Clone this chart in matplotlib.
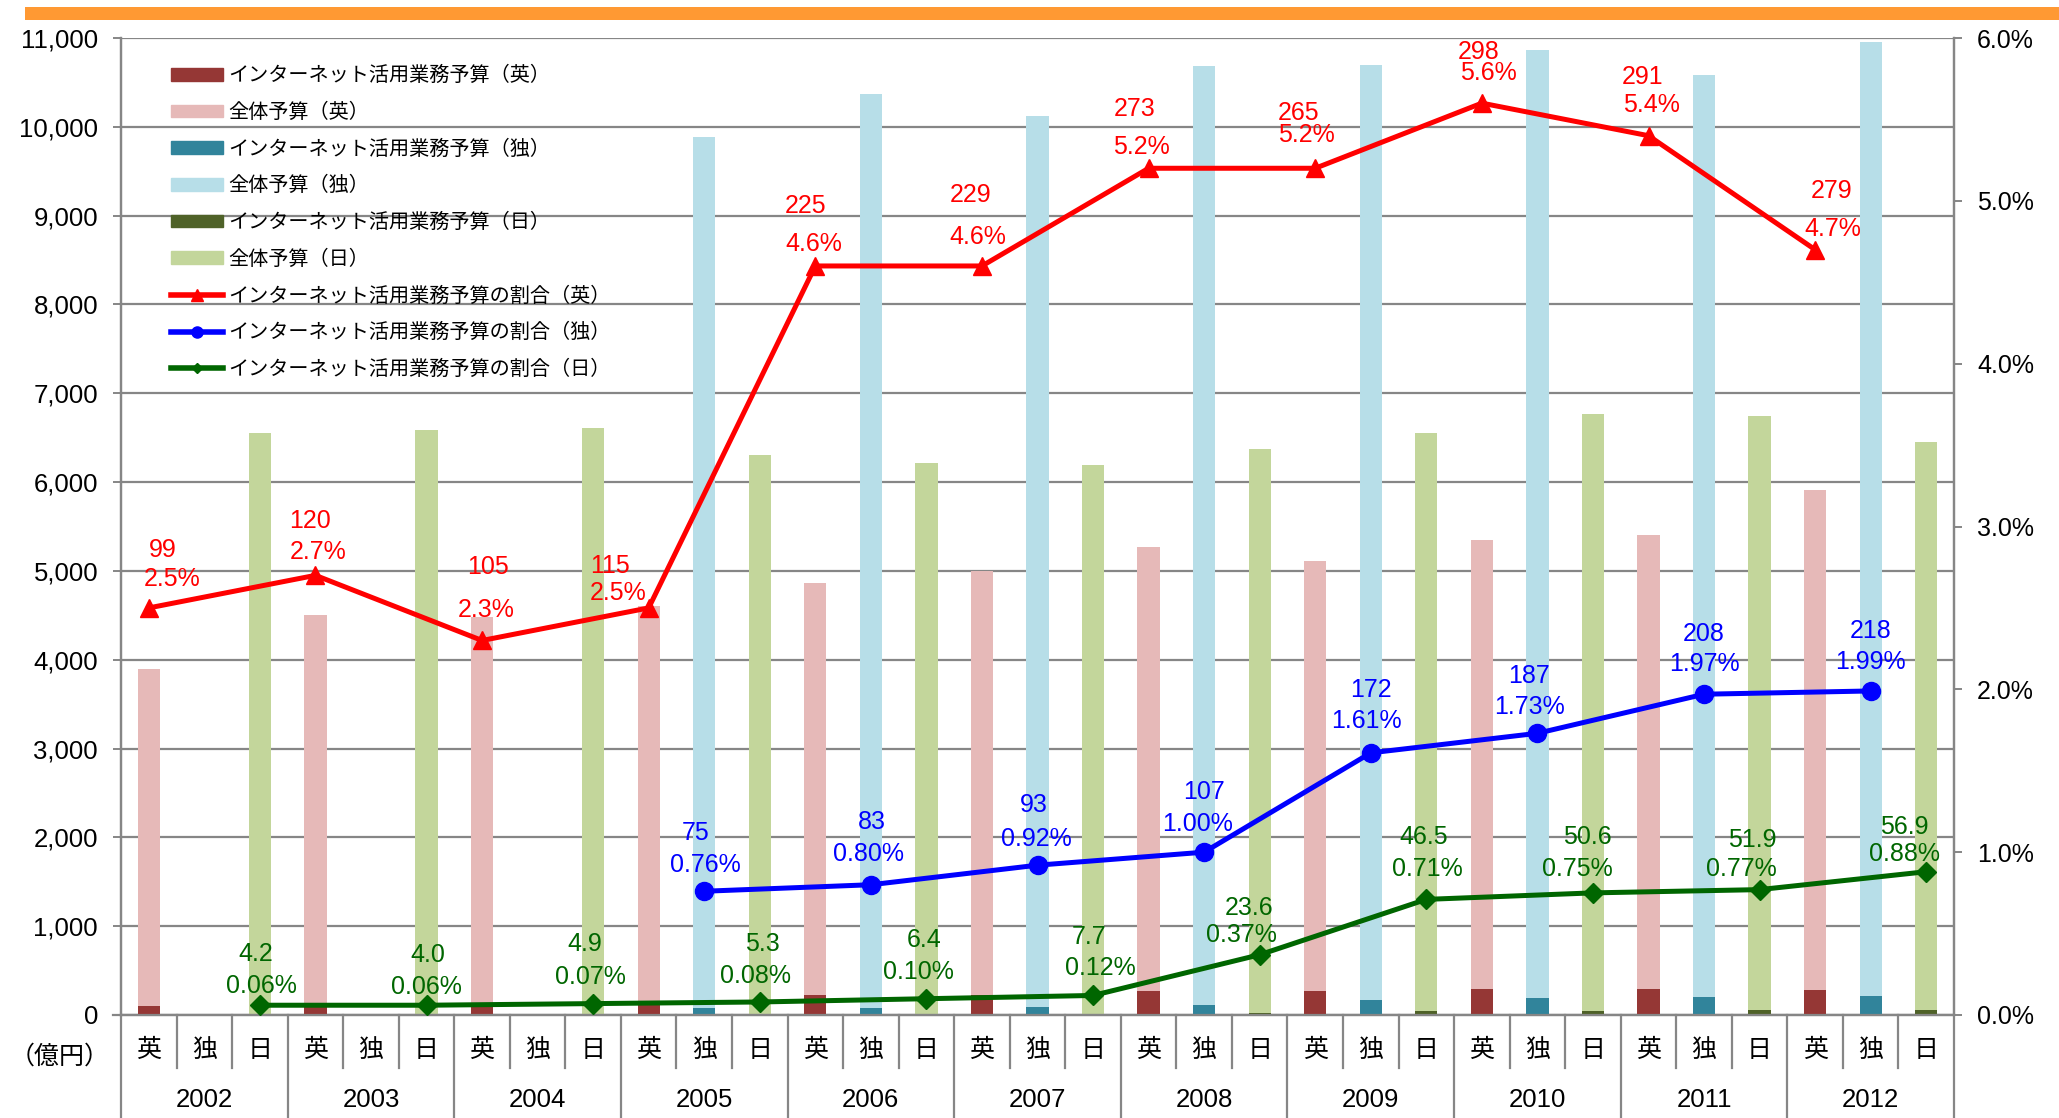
#!/usr/bin/env python3
"""Internet-related budget vs. total budget, UK / Germany / Japan, 2002-2012.

Bars: total budget and internet-related budget (left axis, 億円).
Lines: share of internet-related budget in the total (right axis, %).
"""
import matplotlib

matplotlib.use("Agg")
import matplotlib.pyplot as plt
import matplotlib.transforms as mtransforms
from matplotlib.lines import Line2D
from matplotlib.patches import Patch, Rectangle
from matplotlib.ticker import FuncFormatter, MultipleLocator

plt.rcParams["font.family"] = ["Liberation Sans", "Noto Sans CJK JP", "DejaVu Sans"]

W, H = 2059, 1118

years = [2002, 2003, 2004, 2005, 2006, 2007, 2008, 2009, 2010, 2011, 2012]
countries = ["英", "独", "日"]

# total budget (億円)
uk_total = [3900, 4500, 4485, 4600, 4860, 5000, 5270, 5110, 5350, 5400, 5910]
de_total = [None, None, None, 9880, 10370, 10120, 10680, 10700, 10860, 10580, 10960]
jp_total = [6550, 6590, 6610, 6310, 6220, 6190, 6370, 6550, 6770, 6740, 6450]

# internet-related budget (億円)
uk_net = [99, 120, 105, 115, 225, 229, 273, 265, 298, 291, 279]
de_net = [None, None, None, 75, 83, 93, 107, 172, 187, 208, 218]
jp_net = [4.2, 4.0, 4.9, 5.3, 6.4, 7.7, 23.6, 46.5, 50.6, 51.9, 56.9]

# share of internet-related budget (%)
uk_share = [2.5, 2.7, 2.3, 2.5, 4.6, 4.6, 5.2, 5.2, 5.6, 5.4, 4.7]
de_share = [None, None, None, 0.76, 0.80, 0.92, 1.00, 1.61, 1.73, 1.97, 1.99]
jp_share = [0.06, 0.06, 0.07, 0.08, 0.10, 0.12, 0.37, 0.71, 0.75, 0.77, 0.88]

# label offsets in points: (amount dx, dy, share dx, dy)
uk_off = [(10, 42, 17, 21), (-4, 39, 2, 17), (4, 53, 3, 22), (-28, 30, -22, 11),
          (-7, 43, -1, 16), (-8, 51, -3, 21), (-10, 43, -5, 15), (-12, 40, -6, 24),
          (-2, 37, 5, 22), (-4, 42, 2, 22), (12, 42, 13, 15)]
de_off = [None, None, None, (-6, 42, 1, 19), (1, 45, -2, 22), (-3, 43, -1, 19),
          (0, 43, -5, 20), (0, 45, -3, 23), (-6, 41, -6, 19), (0, 43, 0, 22),
          (0, 43, 0, 21)]
jp_off = [(-3, 37, 1, 14), (1, 36, 0, 13), (-6, 43, -2, 19), (2, 42, -3, 19),
          (-2, 42, -6, 19), (-3, 42, 5, 20), (-8, 34, -13, 14), (-2, 45, 1, 22),
          (-4, 40, -11, 17), (-5, 36, -13, 15), (-16, 32, -16, 13)]

C_UK_NET, C_UK_TOT = "#953735", "#E6B9B8"
C_DE_NET, C_DE_TOT = "#31849B", "#B7DEE8"
C_JP_NET, C_JP_TOT = "#4F6228", "#C3D69B"
C_UK, C_DE, C_JP = "#FF0000", "#0000FF", "#006600"
GRID = "#868686"

fig = plt.figure(figsize=(W / 100, H / 100), dpi=100)
ax = fig.add_axes([121 / W, 1 - 1015 / H, (1954 - 121) / W, (1015 - 38) / H])
ax2 = ax.twinx()

# orange band across the top
fig.add_artist(Rectangle((25 / W, 1 - 20 / H), 1 - 25 / W, 13 / H,
                         transform=fig.transFigure, color="#FF9933", lw=0))

n = len(years)
bw = 0.4
series = [
    (0, uk_total, uk_net, C_UK_TOT, C_UK_NET),
    (1, de_total, de_net, C_DE_TOT, C_DE_NET),
    (2, jp_total, jp_net, C_JP_TOT, C_JP_NET),
]
for k, tot, net, ctot, cnet in series:
    xs = [3 * i + k for i in range(n) if tot[i] is not None]
    ax.bar(xs, [v for v in tot if v is not None], width=bw, color=ctot, zorder=2)
    ax.bar(xs, [v for v in net if v is not None], width=bw, color=cnet, zorder=3)

ax.set_xlim(-0.5, 3 * n - 0.5)
ax.set_ylim(0, 11000)
ax.yaxis.set_major_locator(MultipleLocator(1000))
ax.yaxis.set_major_formatter(FuncFormatter(lambda v, p: f"{v:,.0f}"))
ax.set_axisbelow(True)
ax.yaxis.grid(True, color=GRID, lw=1.6)
ax.set_xticks([])
ax.tick_params(axis="y", direction="out", length=5.5, width=1.4, color=GRID,
               pad=11, labelsize=18.5)

ax2.set_ylim(0, 0.06)
ax2.yaxis.set_major_locator(MultipleLocator(0.01))
ax2.yaxis.set_major_formatter(FuncFormatter(lambda v, p: f"{v * 100:.1f}%"))
ax2.tick_params(axis="y", direction="out", length=5.5, width=1.4, color=GRID,
                pad=11, labelsize=18)

for a in (ax, ax2):
    for s in a.spines.values():
        s.set_color(GRID)
        s.set_linewidth(1.6)
    a.spines["top"].set_visible(False)

# share lines
lines = [
    (0, uk_share, C_UK, "^", 13, uk_off, "{:.0f}", "{:.1f}%", uk_net),
    (1, de_share, C_DE, "o", 13, de_off, "{:.0f}", "{:.2f}%", de_net),
    (2, jp_share, C_JP, "D", 10, jp_off, "{:.1f}", "{:.2f}%", jp_net),
]
for k, share, col, mk, ms, offs, fnet, fshare, net in lines:
    idx = [i for i in range(n) if share[i] is not None]
    xs = [3 * i + k for i in idx]
    ys = [share[i] / 100 for i in idx]
    ax2.plot(xs, ys, color=col, lw=3.6, marker=mk, ms=ms, zorder=5,
             solid_joinstyle="miter")
    for i, x, y in zip(idx, xs, ys):
        ndx, ndy, sdx, sdy = offs[i]
        ax2.annotate(fnet.format(net[i]), (x, y), xytext=(ndx, ndy),
                     textcoords="offset points", ha="center", va="center",
                     color=col, fontsize=18)
        ax2.annotate(fshare.format(share[i]), (x, y), xytext=(sdx, sdy),
                     textcoords="offset points", ha="center", va="center",
                     color=col, fontsize=18)

# category table under the plot
trans = mtransforms.blended_transform_factory(ax.transData, ax.transAxes)
span = (1015 - 38)
short = -(1068 - 1015) / span
long_ = -(H - 1015) / span
for j in range(3 * n + 1):
    x = j - 0.5
    y1 = long_ if j % 3 == 0 else short
    ax.plot([x, x], [0, y1], color=GRID, lw=1.6, transform=trans, clip_on=False)
ax.plot([-0.5 - 0.14, -0.5], [0, 0], color=GRID, lw=1.6, transform=trans,
        clip_on=False)
for i, yr in enumerate(years):
    for k, c in enumerate(countries):
        ax.text(3 * i + k, -(1050 - 1015) / span, c, transform=trans,
                ha="center", va="center", fontsize=18)
    ax.text(3 * i + 1, -(1100 - 1015) / span, str(yr), transform=trans,
            ha="center", va="center", fontsize=18.5)
fig.text(60 / W, 1 - 1057 / H, "（億円）", ha="center", va="center", fontsize=18)

handles = [
    Patch(color=C_UK_NET), Patch(color=C_UK_TOT),
    Patch(color=C_DE_NET), Patch(color=C_DE_TOT),
    Patch(color=C_JP_NET), Patch(color=C_JP_TOT),
    Line2D([], [], color=C_UK, lw=4, marker="^", ms=8),
    Line2D([], [], color=C_DE, lw=4, marker="o", ms=8),
    Line2D([], [], color=C_JP, lw=4, marker="D", ms=5),
]
labels = [
    "インターネット活用業務予算（英）", "全体予算（英）",
    "インターネット活用業務予算（独）", "全体予算（独）",
    "インターネット活用業務予算（日）", "全体予算（日）",
    "インターネット活用業務予算の割合（英）",
    "インターネット活用業務予算の割合（独）",
    "インターネット活用業務予算の割合（日）",
]
leg = ax2.legend(handles, labels, loc="upper left",
                 bbox_to_anchor=(171 / W, 1 - 66 / H),
                 bbox_transform=fig.transFigure, frameon=False, fontsize=14.5,
                 borderpad=0, borderaxespad=0, handlelength=2.6,
                 handleheight=0.6, handletextpad=0.25, labelspacing=0.865)

fig.savefig("out.png", dpi=100)
